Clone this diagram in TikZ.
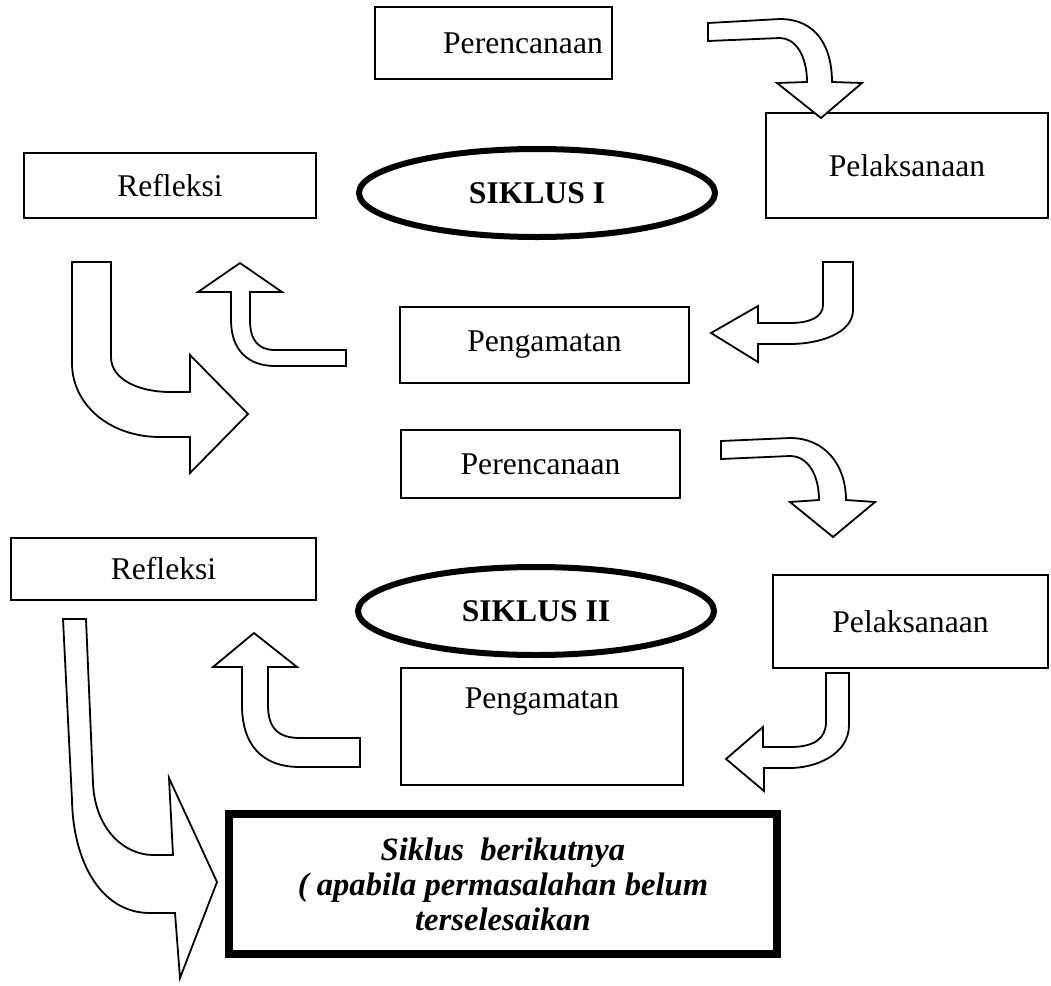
\documentclass[tikz,border=0pt]{standalone}
\usepackage{fontspec}
\usetikzlibrary{shapes.geometric}
\setmainfont{Liberation Serif}
\begin{document}
\begin{tikzpicture}[x=0.5pt,y=-0.5pt,
    box/.style={draw, line width=0.9pt, font=\fontsize{15.8}{18}\selectfont, inner sep=0pt},
    siklus/.style={draw, ellipse, line width=3pt, font=\fontsize{15.8}{18}\selectfont\bfseries, inner sep=0pt, minimum width=178pt, minimum height=44pt},
    blok/.style={draw, line width=0.9pt, fill=white, line join=miter}]
    \useasboundingbox (0,0) rectangle (1051,986);
    % siklus I
    \node[box, minimum width=118.5pt, minimum height=36pt] (per1) at (493.5,43) {\hspace*{29.5pt}Perencanaan};
    \node[box, minimum width=146pt, minimum height=32.5pt] (ref1) at (170,185.5) {Refleksi};
    \node[box, minimum width=141pt, minimum height=52.5pt] (pel1) at (907,165.5) {Pelaksanaan};
    \node[box, minimum width=144.5pt, minimum height=38pt] (amt1) at (544.5,345) {Pengamatan};
    \node[siklus] (sik1) at (537,193) {SIKLUS I};
    % siklus II
    \node[box, minimum width=139.5pt, minimum height=34pt] (per2) at (540.5,464) {Perencanaan};
    \node[box, minimum width=152.5pt, minimum height=31pt] (ref2) at (163.5,569) {Refleksi};
    \node[box, minimum width=137.5pt, minimum height=46.5pt] (pel2) at (910.5,621.5) {Pelaksanaan};
    \node[box, minimum width=141pt, minimum height=58.5pt, text depth=28pt] (amt2) at (542,726.5) {Pengamatan};
    \node[siklus] (sik2) at (536,611) {SIKLUS II};
    \node[box, line width=4pt, minimum width=274pt, minimum height=70pt, align=center, font=\fontsize{16.3}{17.5}\selectfont\bfseries\itshape] (lanjut) at (503,884) {Siklus~ berikutnya\\( apabila permasalahan belum\\terselesaikan};
    % panah blok
    \draw[blok] (708,23) -- (780,19) .. controls (815,19) and (832,45) .. (832,82) -- (862,83) -- (821,118) -- (777,83) -- (807,82) .. controls (807,55) and (795,38) .. (780,38) -- (708,41) -- cycle;
    \draw[blok] (240,263) -- (282,292) -- (250,292) -- (250,320) .. controls (250,340) and (258,350) .. (275,350) -- (346,350) -- (346,366) -- (275,366) .. controls (248,366) and (231,350) .. (231,320) -- (231,292) -- (198,292) -- cycle;
    \draw[blok] (72,262) -- (111,262) -- (111,357) .. controls (111,380) and (140,392) .. (170,392) -- (190,392) -- (190,355) -- (248,414) -- (190,473) -- (190,437) -- (160,437) .. controls (110,437) and (72,405) .. (72,363) -- cycle;
    \draw[blok] (823,262) -- (853,262) -- (853,310) .. controls (853,333) and (820,344) .. (790,344) -- (758,344) -- (758,362) -- (711,333) -- (758,306) -- (758,323) -- (790,323) .. controls (810,323) and (823,317) .. (823,305) -- cycle;
    \draw[blok] (721,441) -- (790,438) .. controls (825,438) and (846,465) .. (846,500) -- (875,502) -- (833,537) -- (790,502) -- (819,500) .. controls (819,475) and (808,456) .. (790,456) -- (721,459) -- cycle;
    \draw[blok] (254,633) -- (297,667) -- (268,667) -- (268,705) .. controls (268,728) and (278,738) .. (300,738) -- (360,738) -- (360,767) -- (300,767) .. controls (262,767) and (242,745) .. (242,705) -- (242,667) -- (213,667) -- cycle;
    \draw[blok] (826,673) -- (849,673) -- (849,725) .. controls (849,755) and (815,768) .. (790,768) -- (764,768) -- (764,791) -- (726,759) -- (763,727) -- (763,747) -- (790,747) .. controls (815,747) and (826,738) .. (826,722) -- cycle;
    \draw[blok] (63,619) -- (86,619) -- (93,783) .. controls (95,830) and (125,855) .. (153,855) -- (173,855) -- (169,778) -- (217,882) -- (180,978) -- (175,913) -- (150,913) .. controls (100,913) and (73,860) .. (72,800) -- cycle;
\end{tikzpicture}
\end{document}
